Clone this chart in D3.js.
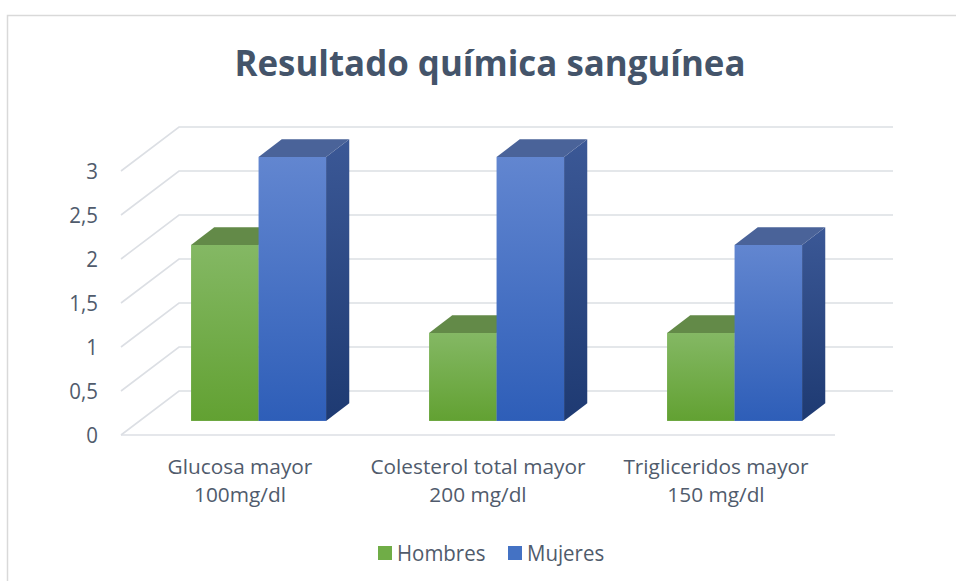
<!DOCTYPE html>
<html>
  <head>
    <meta charset="utf-8">
    <title>Resultado química sanguínea</title>
    <script src="https://d3js.org/d3.v7.min.js"></script>
    <style>
      body { margin: 0; background: #fff; }
      text { font-family: "Open Sans", "Noto Sans", sans-serif; }
    </style>
  </head>
  <body>
    <div id="chart"></div>
    <script>
      // Data
      var categories = [["Glucosa mayor", "100mg/dl"], ["Colesterol total mayor", "200 mg/dl"], ["Trigliceridos mayor", "150 mg/dl"]];
      var series = ["Hombres", "Mujeres"];
      var hombres = [2, 1, 1];
      var mujeres = [3, 3, 2];
      var yTicks = [0, 0.5, 1, 1.5, 2, 2.5, 3];

      var W = 956, H = 581;
      // front floor of the plot and the depth vector of the 3D box
      var floor = {left: 121, right: 835, y0: 435, y3: 171};
      var depth = {dx: 58, dy: -44};
      var barD0 = 0.32, barD1 = 0.72;

      var colors = {
        Hombres: {swatch: "#70ad47", top: "#638a48", f1: "#84b864", f2: "#62a132", s1: "#4f7a36", s2: "#3d6a24"},
        Mujeres: {swatch: "#4472c4", top: "#4a6399", f1: "#6286d0", f2: "#2e5eb8", s1: "#3b5896", s2: "#1e3a72"}
      };
      var textColor = "#505b6c";

      var svg = d3.select("#chart").append("svg")
        .attr("width", W).attr("height", H);

      // chart border
      svg.append("rect")
        .attr("x", 7.5).attr("y", 15.5).attr("width", W).attr("height", H)
        .attr("fill", "#fff").attr("stroke", "#d9d9d9").attr("stroke-width", 1.5);

      var x = d3.scaleBand().domain(d3.range(categories.length))
        .range([floor.left, floor.right]).padding(0);
      var xs = d3.scaleBand().domain(series).range([0, x.bandwidth()])
        .paddingInner(0).paddingOuter(0.763);
      var y = d3.scaleLinear().domain([0, 3]).range([floor.y0, floor.y3]);

      // gridlines: side wall diagonal then back wall line
      var grid = svg.append("g");
      yTicks.forEach(function(t) {
        var yf = y(t);
        grid.append("polyline")
          .attr("points", [[floor.left, yf], [floor.left + depth.dx, yf + depth.dy],
                           [floor.right + depth.dx, yf + depth.dy]].join(" "))
          .attr("fill", "none").attr("stroke", "#dcdfe4").attr("stroke-width", 1.6);
      });
      grid.append("line")
        .attr("x1", floor.left).attr("x2", floor.right)
        .attr("y1", floor.y0).attr("y2", floor.y0)
        .attr("stroke", "#dcdfe4").attr("stroke-width", 1.6);

      // y labels
      svg.append("g").selectAll("text").data(yTicks).enter().append("text")
        .attr("x", 98).attr("y", function(d) { return y(d); })
        .attr("dy", "0.36em")
        .attr("text-anchor", "end")
        .attr("font-size", 22).attr("fill", textColor)
        .text(function(d) { return String(d).replace(".", ","); });

      // gradients
      var defs = svg.append("defs");
      series.forEach(function(s) {
        var c = colors[s];
        [["front", c.f1, c.f2], ["side", c.s1, c.s2]].forEach(function(g) {
          var lg = defs.append("linearGradient").attr("id", s + "-" + g[0])
            .attr("x1", 0).attr("y1", 0).attr("x2", 0).attr("y2", 1);
          lg.append("stop").attr("offset", "0%").attr("stop-color", g[1]);
          lg.append("stop").attr("offset", "100%").attr("stop-color", g[2]);
        });
      });

      // bars
      var ox = depth.dx * barD0, oy = depth.dy * barD0;
      var bdx = depth.dx * (barD1 - barD0), bdy = depth.dy * (barD1 - barD0);
      var bars = svg.append("g");
      categories.forEach(function(cat, i) {
        [hombres, mujeres].forEach(function(vals, j) {
          var s = series[j];
          var x0 = x(i) + xs(s) + ox, x1 = x0 + xs.bandwidth();
          var yb = y(0) + oy, yt = y(vals[i]) + oy;
          var g = bars.append("g");
          // side
          g.append("polygon")
            .attr("points", [[x1, yb], [x1 + bdx, yb + bdy], [x1 + bdx, yt + bdy], [x1, yt]].join(" "))
            .attr("fill", "url(#" + s + "-side)");
          // front
          g.append("rect")
            .attr("x", x0).attr("y", yt).attr("width", x1 - x0).attr("height", yb - yt)
            .attr("fill", "url(#" + s + "-front)");
          // top
          g.append("polygon")
            .attr("points", [[x0, yt], [x0 + bdx, yt + bdy], [x1 + bdx, yt + bdy], [x1, yt]].join(" "))
            .attr("fill", colors[s].top);
        });
      });

      // category labels (two lines each)
      var cl = svg.append("g");
      categories.forEach(function(cat, i) {
        var cx = x(i) + x.bandwidth() / 2;
        cat.forEach(function(line, k) {
          cl.append("text")
            .attr("class", "cat")
            .attr("x", cx).attr("y", 474 + k * 27.5)
            .attr("text-anchor", "middle")
            .attr("font-size", 20).attr("fill", textColor)
            .text(line);
        });
      });

      // title
      svg.append("text")
        .attr("x", 490).attr("y", 76)
        .attr("text-anchor", "middle")
        .attr("font-size", 35).attr("font-weight", "bold").attr("fill", "#44546a")
        .attr("textLength", 511).attr("lengthAdjust", "spacingAndGlyphs")
        .text("Resultado química sanguínea");

      // legend
      var legX = [378, 508];
      var leg = svg.append("g");
      series.forEach(function(s, j) {
        leg.append("rect")
          .attr("x", legX[j]).attr("y", 546).attr("width", 14).attr("height", 14)
          .attr("fill", colors[s].swatch);
        leg.append("text")
          .attr("x", legX[j] + 19).attr("y", 561)
          .attr("font-size", 22).attr("fill", textColor)
          .text(s);
      });

      // condense / stretch text a bit to mimic the original font widths
      svg.selectAll("text").filter(function() { return !this.hasAttribute("textLength"); })
        .each(function() {
          var f = this.getAttribute("class") === "cat" ? 1.04 : 0.93;
          this.setAttribute("textLength", this.getComputedTextLength() * f);
          this.setAttribute("lengthAdjust", "spacingAndGlyphs");
        });
    </script>
  </body>
</html>
